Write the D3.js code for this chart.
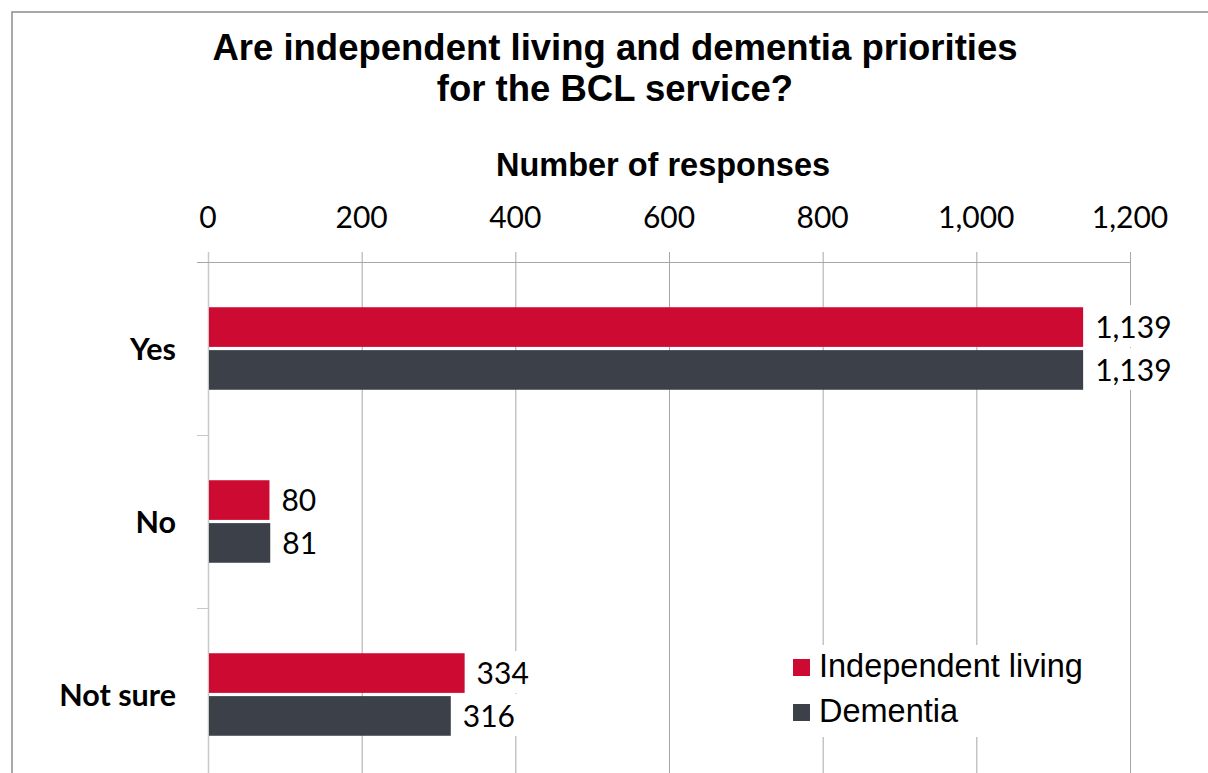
<!DOCTYPE html>
<html>
<head>
<meta charset="utf-8">
<script src="https://cdn.jsdelivr.net/npm/d3@7"></script>
<style>
  html, body { margin: 0; padding: 0; background: #fff; }
  svg { display: block; }
</style>
</head>
<body>
<svg id="chart" width="1208" height="773"></svg>
<script>
// Survey answers, one group of bars per answer
const categories = ["Yes", "No", "Not sure"];
const seriesNames = ["Independent living", "Dementia"];
const independentLiving = [1139, 80, 334];
const dementia = [1139, 81, 316];
const xTicks = [0, 200, 400, 600, 800, 1000, 1200];
const colors = ["#CC0A32", "#3C4049"];

const titleLines = ["Are independent living and dementia priorities", "for the BCL service?"];
const axisTitle = "Number of responses";

const seriesValues = [independentLiving, dementia];
const rows = categories.map((c, i) => ({
  category: c,
  values: seriesNames.map((s, j) => ({ series: s, value: seriesValues[j][i], color: colors[j] }))
}));

const svg = d3.select("#chart");
const labelFont = "Lato, 'Open Sans', sans-serif";
const arialFont = "'Liberation Sans', Arial, sans-serif";

// outer frame
svg.append("rect")
  .attr("x", 12).attr("y", 12)
  .attr("width", 1240).attr("height", 800)
  .attr("fill", "none").attr("stroke", "#8c8c8c").attr("stroke-width", 1.5);

const plot = { left: 208, right: 1130, top: 262, bottom: 781 };

const x = d3.scaleLinear().domain([0, 1200]).range([plot.left, plot.right]);
const y0 = d3.scaleBand().domain(categories).range([plot.top, plot.bottom])
  .paddingInner(0.523).paddingOuter(0.2615);
const y1 = d3.scaleBand().domain(seriesNames).range([0, y0.bandwidth()]).paddingInner(0.075);

// vertical gridlines with small tick stubs above the axis line
svg.append("g").selectAll("line").data(xTicks.slice(1)).join("line")
  .attr("x1", d => x(d) + 0.5).attr("x2", d => x(d) + 0.5)
  .attr("y1", plot.top - 10).attr("y2", plot.bottom)
  .attr("stroke", "#a6a6a6").attr("stroke-width", 1);

// category axis (left) with separators between groups
svg.append("line")
  .attr("x1", plot.left + 0.5).attr("x2", plot.left + 0.5)
  .attr("y1", plot.top - 10).attr("y2", plot.bottom)
  .attr("stroke", "#c8c8c8").attr("stroke-width", 1.5);
const bounds = categories.map(c => y0(c) - y0.step() * y0.paddingInner() / 2).slice(1);
svg.append("g").selectAll("line").data(bounds).join("line")
  .attr("x1", plot.left - 11).attr("x2", plot.left)
  .attr("y1", d => Math.round(d) + 0.5).attr("y2", d => Math.round(d) + 0.5)
  .attr("stroke", "#c8c8c8").attr("stroke-width", 1);

// value axis line along the top
svg.append("line")
  .attr("x1", plot.left - 11).attr("x2", plot.right + 1)
  .attr("y1", plot.top + 0.5).attr("y2", plot.top + 0.5)
  .attr("stroke", "#a6a6a6").attr("stroke-width", 1);

const fmt = d3.format(",");

// tick labels
svg.append("g").selectAll("text").data(xTicks).join("text")
  .attr("x", d => x(d)).attr("y", 228)
  .attr("text-anchor", "middle")
  .attr("font-family", labelFont).attr("font-size", 30)
  .attr("fill", "#000")
  .text(d => fmt(d));

// bars
const groups = svg.append("g").selectAll("g").data(rows).join("g")
  .attr("transform", d => `translate(0,${y0(d.category)})`);

groups.selectAll("rect").data(d => d.values).join("rect")
  .attr("x", x(0) + 1)
  .attr("y", d => y1(d.series))
  .attr("width", d => x(d.value) - x(0) - 1)
  .attr("height", y1.bandwidth())
  .attr("fill", d => d.color);

// value labels sit on white boxes that hide the gridlines behind them
const labels = groups.selectAll("g.lbl").data(d => d.values).join("g").attr("class", "lbl");
labels.append("text")
  .attr("x", d => x(d.value) + 12)
  .attr("y", d => y1(d.series) + y1.bandwidth() / 2 + 11)
  .attr("font-family", labelFont).attr("font-size", 30)
  .attr("fill", "#000")
  .text(d => fmt(d.value));
labels.each(function () {
  const g = d3.select(this);
  const bb = g.select("text").node().getBBox();
  g.insert("rect", "text")
    .attr("x", bb.x - 4).attr("y", bb.y - 3)
    .attr("width", bb.width + 8).attr("height", bb.height + 6)
    .attr("fill", "#fff");
});

// category labels
svg.append("g").selectAll("text").data(categories).join("text")
  .attr("x", 176)
  .attr("y", d => y0(d) + y0.bandwidth() / 2 + 11)
  .attr("text-anchor", "end")
  .attr("font-family", labelFont).attr("font-weight", 700).attr("font-size", 30.5)
  .attr("fill", "#000")
  .text(d => d);

// titles
svg.append("g").selectAll("text").data(titleLines).join("text")
  .attr("x", 615).attr("y", (d, i) => 60 + i * 41)
  .attr("text-anchor", "middle")
  .attr("font-family", arialFont).attr("font-weight", 700).attr("font-size", 36.5)
  .attr("fill", "#000")
  .text(d => d);

svg.append("text")
  .attr("x", 663).attr("y", 176)
  .attr("text-anchor", "middle")
  .attr("font-family", arialFont).attr("font-weight", 700).attr("font-size", 32.5)
  .attr("fill", "#000")
  .text(axisTitle);

// legend
const legend = svg.append("g").attr("transform", "translate(784,645)");
legend.append("rect").attr("x", 0).attr("y", 0).attr("width", 312).attr("height", 92).attr("fill", "#fff");
const items = legend.selectAll("g").data(seriesNames).join("g")
  .attr("transform", (d, i) => `translate(9,${14 + i * 45})`);
items.append("rect").attr("width", 17).attr("height", 17).attr("fill", (d, i) => colors[i]);
items.append("text")
  .attr("x", 26).attr("y", 18)
  .attr("font-family", arialFont).attr("font-size", 32.5)
  .attr("fill", "#000")
  .text(d => d);
</script>
</body>
</html>
